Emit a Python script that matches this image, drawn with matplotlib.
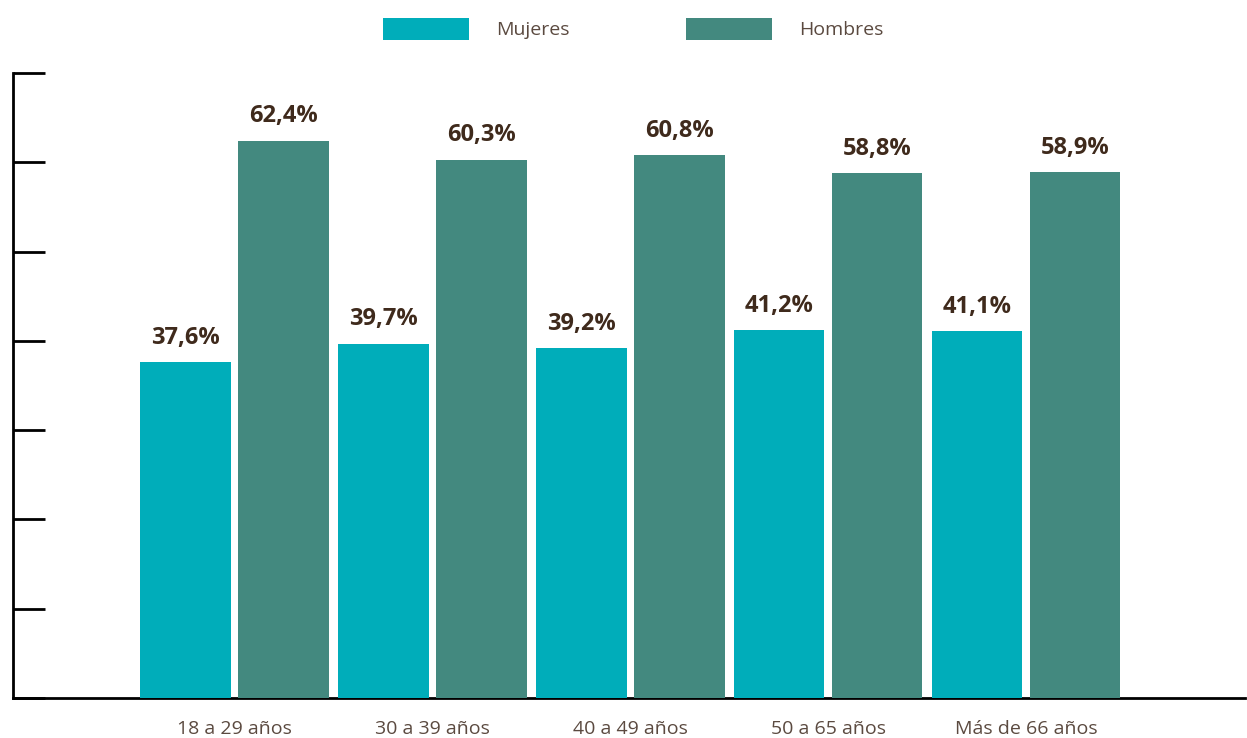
import numpy as np
import matplotlib
matplotlib.use('Agg')
import matplotlib.pyplot as plt

# grupos de edad y porcentajes por sexo
grupos = ['18 a 29 años', '30 a 39 años', '40 a 49 años', '50 a 65 años', 'Más de 66 años']
mujeres = [37.6, 39.7, 39.2, 41.2, 41.1]
hombres = [62.4, 60.3, 60.8, 58.8, 58.9]

col_muj = '#00adba'
col_hom = '#43897f'
txt_dark = '#3f2a1c'
txt_tick = '#5b4a40'

plt.rcParams['font.family'] = ['Open Sans', 'DejaVu Sans']

fig = plt.figure(figsize=(12.47, 7.38), dpi=100)
ax = fig.add_axes([0.0104, 0.0542, 0.988, 0.8468])

x = np.arange(len(grupos))
w = 0.455
off = 0.2475
b1 = ax.bar(x - off, mujeres, w, color=col_muj, label='Mujeres', zorder=3)
b2 = ax.bar(x + off, hombres, w, color=col_hom, label='Hombres', zorder=3)

for bars, vals in ((b1, mujeres), (b2, hombres)):
    for r, v in zip(bars, vals):
        ax.annotate(('%.1f%%' % v).replace('.', ','),
                    (r.get_x() + r.get_width() / 2, v),
                    xytext=(0, 9), textcoords='offset points',
                    ha='center', va='bottom', fontsize=17, fontweight='bold',
                    color=txt_dark)

ax.set_xlim(-1.119, 5.104)
ax.set_ylim(0, 69.6)
ax.set_yticks(np.arange(0, 71, 10))
ax.set_yticklabels([])
ax.tick_params(axis='y', direction='in', length=23, width=2, color='black', left=True)
ax.set_xticks(x)
ax.set_xticklabels(grupos, fontsize=14, color=txt_tick)
ax.tick_params(axis='x', length=0, pad=16)

for s in ('top', 'right'):
    ax.spines[s].set_visible(False)
for s in ('left', 'bottom'):
    ax.spines[s].set_linewidth(2)
    ax.spines[s].set_color('black')

leg = fig.legend(handles=[b1, b2], loc='upper center', bbox_to_anchor=(0.508, 1.0),
                 ncol=2, frameon=False, fontsize=14, handlelength=4.4,
                 handleheight=1.4, handletextpad=1.4, columnspacing=6.0,
                 labelcolor=txt_tick)

fig.savefig('out.png', dpi=100)
